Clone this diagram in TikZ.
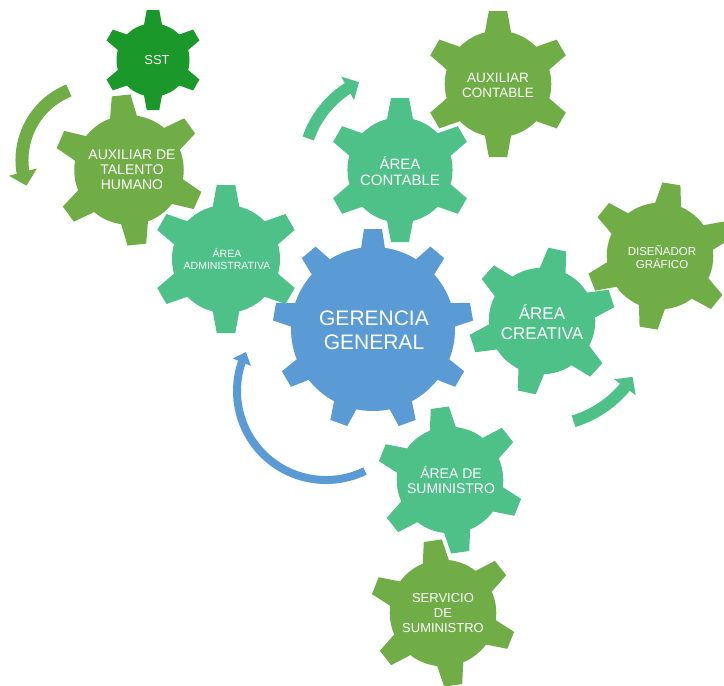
\documentclass[tikz,border=0pt]{standalone}
\usepackage{fontspec}
\setmainfont{Liberation Sans}
\usetikzlibrary{arrows.meta,bending}
\definecolor{gblue}{RGB}{91,155,213}
\definecolor{gteal}{RGB}{78,193,137}
\definecolor{golive}{RGB}{112,173,71}
\definecolor{gdark}{RGB}{26,152,42}
% #1 x, #2 y, #3 outer radius, #4 teeth, #5 angle of first tooth (image deg), #6 colour,
% #7 body ratio, #8 tooth top half width ratio, #9 tooth base half width ratio
\newcommand{\mygear}[9]{%
  \begin{scope}[shift={(#1,#2)}]
    \fill[#6] (0,0) circle[radius={#7*#3}];
    \foreach \k in {1,...,#4}{%
      \pgfmathsetmacro{\ang}{#5+(\k-1)*360/#4}
      \fill[#6, rotate=-\ang] ({(#7-0.05)*#3},{-#9*#3}) -- ({#3},{-#8*#3}) -- ({#3},{#8*#3}) -- ({(#7-0.05)*#3},{#9*#3}) -- cycle;
    }
  \end{scope}}
\newcommand{\smallgear}[5]{\mygear{#1}{#2}{#3}{6}{#4}{#5}{0.73}{0.125}{0.185}}
\tikzset{
  gtext/.style={text=white, align=center, inner sep=0pt},
  carrow/.style 2 args={-{Triangle[width=#1, length=#2, flex]}},
}
\begin{document}
\begin{tikzpicture}[x=1pt,y=-1pt]
\useasboundingbox (0,0) rectangle (724,686);
\fill[white] (0,0) rectangle (724,686);
% big gear
\mygear{373}{329}{100}{9}{-90}{gblue}{0.82}{0.09}{0.125}
% teal gears
\smallgear{226}{259}{74}{-90}{gteal}
\smallgear{400}{170}{72}{-90}{gteal}
\smallgear{542}{321}{73}{-78}{gteal}
\smallgear{450}{480}{73}{-98}{gteal}
% olive gears
\smallgear{129}{170}{75}{-96}{golive}
\smallgear{498}{84}{73}{-90}{golive}
\smallgear{660}{256}{73}{-81}{golive}
\smallgear{443}{613}{73}{-98}{golive}
% dark gear
\smallgear{153}{60}{50}{-90}{gdark}
% texts
\node[gtext, font=\fontsize{21}{24}\selectfont] (gg) at (374,330) {GERENCIA\\GENERAL};
\node[gtext, font=\fontsize{15}{16.5}\selectfont] (ac) at (400,171) {ÁREA\\CONTABLE};
\node[gtext, font=\fontsize{10.5}{12}\selectfont] (aa) at (227,259) {ÁREA\\ADMINISTRATIVA};
\node[gtext, font=\fontsize{14}{15}\selectfont] (th) at (132,170) {AUXILIAR DE\\TALENTO\\HUMANO};
\node[gtext, font=\fontsize{13.5}{15}\selectfont] (axc) at (498,85) {AUXILIAR\\CONTABLE};
\node[gtext, font=\fontsize{17}{20}\selectfont] (acr) at (542,322) {ÁREA\\CREATIVA};
\node[gtext, font=\fontsize{11.5}{12.7}\selectfont] (dg) at (662,257) {DISEÑADOR\\GRÁFICO};
\node[gtext, font=\fontsize{14}{15}\selectfont] (as) at (451,480) {ÁREA DE\\SUMINISTRO};
\node[gtext, font=\fontsize{13}{15}\selectfont] (ss) at (443,613) {SERVICIO\\DE\\SUMINISTRO};
\node[gtext, font=\fontsize{13}{15}\selectfont] (sst) at (157,60) {SST};
% circular arrows
\coordinate (ca) at (97,160);
\coordinate (cb) at (400,170);
\coordinate (cc) at (542,318);
\coordinate (cd) at (326,391);
\draw[golive, line width=13pt, carrow={28pt}{14pt}] (ca) ++(248:75) arc[start angle=248, end angle=160, radius=75];
\draw[gteal, line width=12pt, carrow={26pt}{13pt}] (cb) ++(199:97) arc[start angle=199, end angle=245, radius=97];
\draw[gteal, line width=12pt, carrow={26pt}{13pt}] (cc) ++(73:108) arc[start angle=73, end angle=33, radius=108];
\draw[gblue, line width=8pt, carrow={19pt}{11pt}] (cd) ++(64:89) arc[start angle=64, end angle=206, radius=89];
\end{tikzpicture}
\end{document}
